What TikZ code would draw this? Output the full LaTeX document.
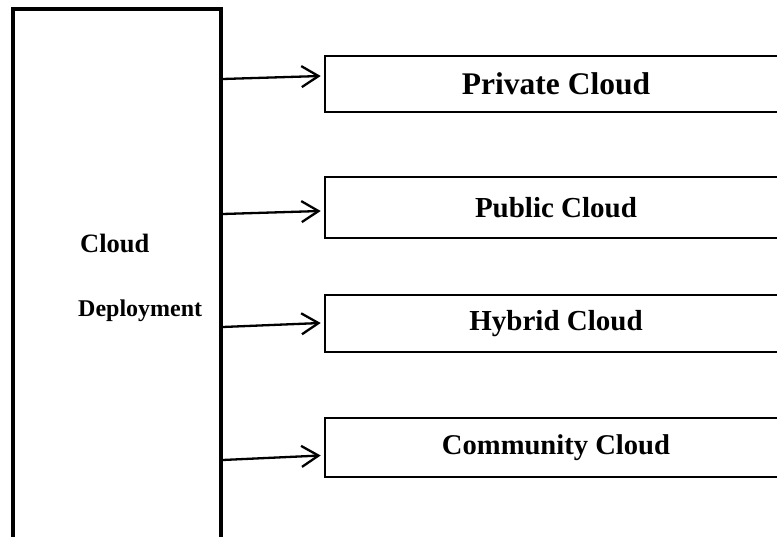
\documentclass[tikz,border=0pt]{standalone}
\usepackage{fontspec}
\setmainfont{Liberation Serif}
\usepackage{tikz}
\usetikzlibrary{arrows.meta,positioning}

\begin{document}
\begin{tikzpicture}[x=1pt,y=-1pt,every node/.style={font=\bfseries},leftbox/.style={draw,line width=3.5pt,minimum width=208pt,minimum height=580pt,inner sep=0pt},cloudbox/.style={draw,line width=2.6pt,minimum width=462pt,minimum height=58pt,inner sep=0pt},deplabel/.style={anchor=base west,inner sep=0pt},arr/.style={-{Straight Barb[length=17pt,width=21pt]},line width=2.3pt}]
\useasboundingbox (0,0) rectangle (777,537);
\clip (0,0) rectangle (777,537);
\node[leftbox] (deploy) at (117,299) {};
\node[deplabel,font=\bfseries\fontsize{26.5}{32}\selectfont] (deptop) at (80,253) {Cloud};
\node[deplabel,font=\bfseries\fontsize{24}{28}\selectfont] (depbot) at (78,317) {Deployment};
\node[cloudbox,minimum height=56pt,font=\bfseries\fontsize{31.5}{36}\selectfont] (private) at (556,84) {Private Cloud};
\node[cloudbox,minimum height=61pt,font=\bfseries\fontsize{29}{34}\selectfont] (public) at (556,207.5) {Public Cloud};
\node[cloudbox,minimum height=57pt,font=\bfseries\fontsize{29}{34}\selectfont] (hybrid) at (556,323.5) {Hybrid Cloud};
\node[cloudbox,minimum height=59pt,font=\bfseries\fontsize{28.6}{34}\selectfont] (community) at (556,447.5) {Community Cloud};
\draw[arr] (deploy.east |- 0,79) -- ([xshift=-3pt,yshift=8pt]private.west);
\draw[arr] (deploy.east |- 0,214) -- ([xshift=-3pt,yshift=-3.5pt]public.west);
\draw[arr] (deploy.east |- 0,327) -- ([xshift=-3pt,yshift=0.5pt]hybrid.west);
\draw[arr] (deploy.east |- 0,460) -- ([xshift=-3pt,yshift=-8pt]community.west);
\end{tikzpicture}
\end{document}
